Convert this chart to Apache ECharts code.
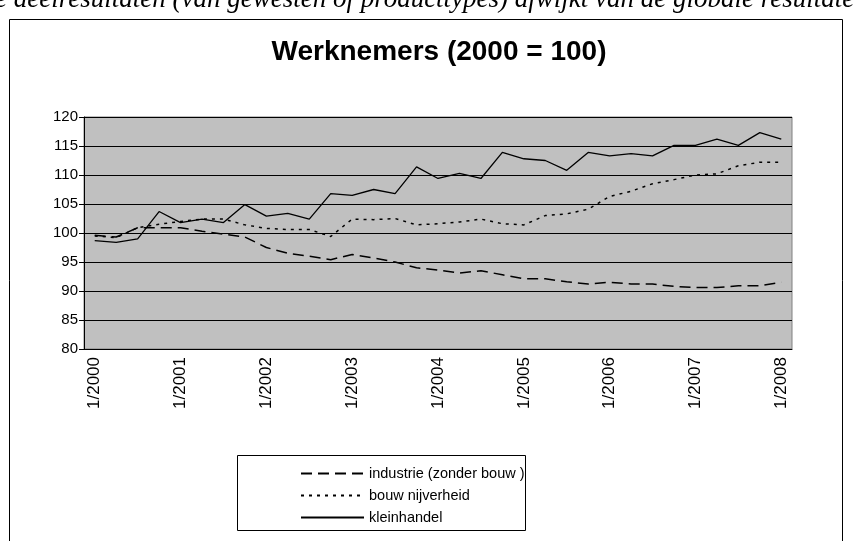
<!DOCTYPE html>
<html><head><meta charset="utf-8">
<script src="https://cdn.jsdelivr.net/npm/echarts@6/dist/echarts.min.js"></script>
<style>html,body{margin:0;padding:0;background:#fff;}#c{width:853px;height:541px;}</style>
</head><body><div id="c"></div>
<script>
var years = [2000,2001,2002,2003,2004,2005,2006,2007];
var categories = [];
years.forEach(function(y){ [1,4,7,10].forEach(function(m){ categories.push(m + '/' + y); }); });
categories.push('1/2008');

var industrie = [99.6,99.3,100.9,100.9,100.9,100.3,99.8,99.3,97.5,96.5,96.0,95.4,96.3,95.7,95.0,94.0,93.6,93.1,93.5,92.8,92.1,92.1,91.6,91.2,91.5,91.2,91.2,90.8,90.6,90.6,90.9,90.9,91.5];
var bouw = [99.5,99.2,100.9,101.5,102.0,102.4,102.4,101.4,100.8,100.6,100.6,99.4,102.4,102.3,102.5,101.4,101.6,101.9,102.4,101.6,101.4,103.0,103.3,104.1,106.3,107.2,108.5,109.2,110.0,110.2,111.6,112.2,112.2];
var kleinhandel = [98.7,98.4,99.0,103.7,101.8,102.4,101.8,104.9,102.9,103.4,102.4,106.8,106.5,107.5,106.8,111.4,109.4,110.3,109.4,113.9,112.8,112.5,110.8,113.9,113.3,113.7,113.3,115.1,115.1,116.2,115.1,117.3,116.2];
var seriesNames = ['industrie (zonder bouw )','bouw nijverheid','kleinhandel'];
var titleText = 'Werknemers (2000 = 100)';
var topText = 'e deelresultaten (van gewesten of producttypes) afwijkt van de globale resultaten';

var chart = echarts.init(document.getElementById('c'), null, {renderer:'canvas'});
var font = '"Liberation Sans", Arial, sans-serif';
chart.setOption({
  animation:false,
  backgroundColor:'#fff',
  title:{text:titleText,left:434,textAlign:'center',top:33,
    textStyle:{fontFamily:font,fontWeight:'bold',fontSize:28,color:'#000'}},
  graphic:[
    {type:'text',left:-5,top:-14,style:{text:topText,font:'italic 27px "Liberation Serif", "Times New Roman", serif',fill:'#000'}},
    {type:'rect',shape:{x:9.5,y:19.5,width:833,height:540},style:{fill:null,stroke:'#000',lineWidth:1},z:-1},
    {type:'rect',shape:{x:237.5,y:455.5,width:288,height:75},style:{fill:'#fff',stroke:'#000',lineWidth:1},z:0}
  ],
  grid:{left:84,right:61,top:117,bottom:192,show:true,backgroundColor:'#C0C0C0',borderColor:'#808080',borderWidth:1},
  legend:{orient:'vertical',left:295,top:461,itemWidth:63,itemHeight:14,itemGap:7,
    itemStyle:{opacity:0},
    data:seriesNames,textStyle:{fontFamily:font,fontSize:14.5,color:'#000'},z:5},
  xAxis:{type:'category',data:categories,boundaryGap:true,
    axisLine:{lineStyle:{color:'#000',width:1}},
    axisTick:{interval:0,length:5,lineStyle:{color:'#000'}},
    axisLabel:{interval:3,rotate:90,fontFamily:font,fontSize:17,color:'#000',margin:8}},
  yAxis:{type:'value',min:80,max:120,interval:5,
    axisLine:{show:true,lineStyle:{color:'#000',width:1}},
    axisTick:{show:true,length:5,lineStyle:{color:'#000'}},
    splitLine:{lineStyle:{color:'#000',width:1}},
    axisLabel:{fontFamily:font,fontSize:15,color:'#000',margin:6}},
  series:[
    {name:seriesNames[0],type:'line',data:industrie,symbol:'none',lineStyle:{color:'#000',width:1.5,type:[11,6]},itemStyle:{color:'#000'}},
    {name:seriesNames[1],type:'line',data:bouw,symbol:'none',lineStyle:{color:'#000',width:1.5,type:[3,5]},itemStyle:{color:'#000'}},
    {name:seriesNames[2],type:'line',data:kleinhandel,symbol:'none',lineStyle:{color:'#000',width:1.3,type:'solid'},itemStyle:{color:'#000'}}
  ]
});
</script></body></html>
